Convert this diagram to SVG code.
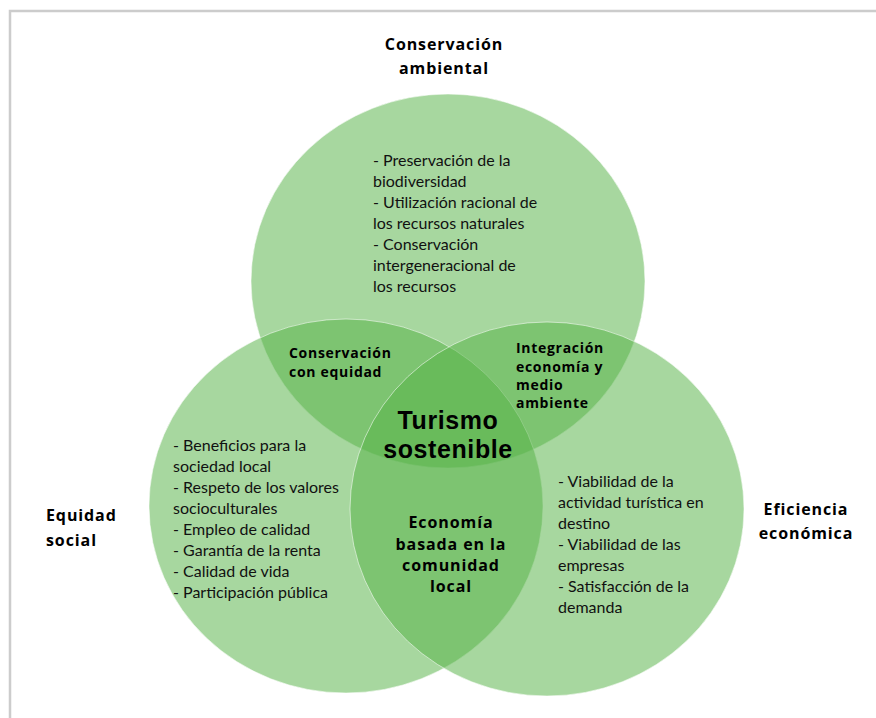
<svg xmlns="http://www.w3.org/2000/svg" width="876" height="718" viewBox="0 0 876 718">
<defs>
<style>
.c{fill:rgb(86,178,70);fill-opacity:0.52;stroke:#ffffff;stroke-opacity:0.55;stroke-width:1}
.h{font-family:"Open Sans","Liberation Sans",sans-serif;font-weight:700;fill:#000;font-size:16px;letter-spacing:0.9px}
.o{font-family:"Open Sans","Liberation Sans",sans-serif;font-weight:700;fill:#000;font-size:14px;letter-spacing:0.7px}
.t{font-family:"Liberation Sans",Arial,sans-serif;font-weight:700;fill:#000;font-size:25px;letter-spacing:0.6px}
.l{font-family:Lato,"Liberation Sans",sans-serif;fill:#111;font-size:16px}
</style>
</defs>
<rect x="10" y="11" width="900" height="800" fill="#ffffff" stroke="#cccccc" stroke-width="2.5"/>
<g id="circles">
<ellipse id="top-circle" class="c" cx="448" cy="281" rx="197" ry="187"/>
<ellipse id="left-circle" class="c" cx="346" cy="506" rx="197" ry="187"/>
<ellipse id="right-circle" class="c" cx="547" cy="509" rx="197" ry="187"/>
</g>
<g id="conservacion-ambiental">
<text class="h" text-anchor="middle"><tspan x="444" y="50">Conservación</tspan><tspan x="444" y="74">ambiental</tspan></text>
<text class="l"><tspan x="373" y="166">- Preservación de la</tspan><tspan x="373" y="187">biodiversidad</tspan><tspan x="373" y="208">- Utilización racional de</tspan><tspan x="373" y="229">los recursos naturales</tspan><tspan x="373" y="250">- Conservación</tspan><tspan x="373" y="271">intergeneracional de</tspan><tspan x="373" y="292">los recursos</tspan></text>
</g>
<g id="equidad-social">
<text class="h"><tspan x="46" y="521">Equidad</tspan><tspan x="46" y="546">social</tspan></text>
<text class="l"><tspan x="173" y="451">- Beneficios para la</tspan><tspan x="173" y="472">sociedad local</tspan><tspan x="173" y="493">- Respeto de los valores</tspan><tspan x="173" y="514">socioculturales</tspan><tspan x="173" y="535">- Empleo de calidad</tspan><tspan x="173" y="556">-  Garantía de la renta</tspan><tspan x="173" y="577">- Calidad de vida</tspan><tspan x="173" y="598">- Participación pública</tspan></text>
</g>
<g id="eficiencia-economica">
<text class="h" text-anchor="middle"><tspan x="806" y="515">Eficiencia</tspan><tspan x="806" y="539">económica</tspan></text>
<text class="l"><tspan x="558" y="487">- Viabilidad de la</tspan><tspan x="558" y="508">actividad turística en</tspan><tspan x="558" y="529">destino</tspan><tspan x="558" y="550">- Viabilidad de las</tspan><tspan x="558" y="571">empresas</tspan><tspan x="558" y="592">- Satisfacción de la</tspan><tspan x="558" y="613">demanda</tspan></text>
</g>
<g id="conservacion-con-equidad">
<text class="o"><tspan x="289" y="358">Conservación</tspan><tspan x="289" y="377">con equidad</tspan></text>
</g>
<g id="integracion">
<text class="o"><tspan x="516" y="353">Integración</tspan><tspan x="516" y="372">economía y</tspan><tspan x="516" y="390">medio</tspan><tspan x="516" y="408">ambiente</tspan></text>
</g>
<g id="economia-local">
<text class="h" text-anchor="middle"><tspan x="451" y="528">Economía</tspan><tspan x="451" y="550">basada en la</tspan><tspan x="451" y="571">comunidad</tspan><tspan x="451" y="592">local</tspan></text>
</g>
<g id="turismo-sostenible">
<text class="t" text-anchor="middle"><tspan x="448" y="429">Turismo</tspan><tspan x="448" y="458">sostenible</tspan></text>
</g>
<g id="connectors"/>
</svg>
